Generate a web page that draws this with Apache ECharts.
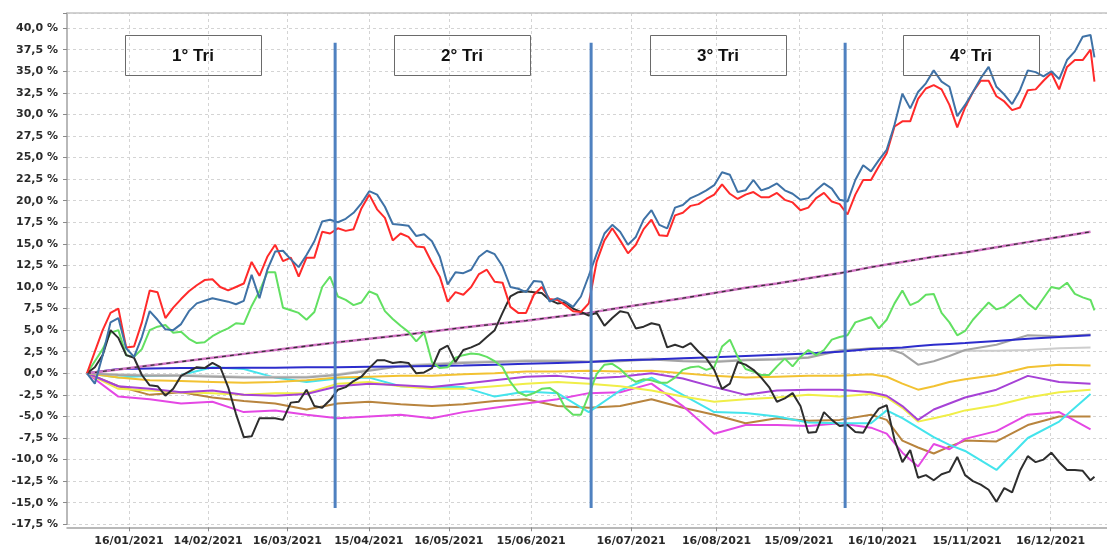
<!DOCTYPE html>
<html><head><meta charset="utf-8">
<script src="https://cdn.jsdelivr.net/npm/echarts@6/dist/echarts.min.js"></script>
<style>html,body{margin:0;padding:0;background:#fff}#c{width:1107px;height:550px}</style>
</head><body><div id="c"></div>
<script>
// x positions are trading-day indexes (day 0 = start of 2021)
const tickLabels = ['16/01/2021','14/02/2021','16/03/2021','15/04/2021','16/05/2021','15/06/2021','16/07/2021','16/08/2021','15/09/2021','16/10/2021','15/11/2021','16/12/2021'];
const tickDays = [10.7,30.9,51.1,71.9,92.3,113.3,138.8,160.6,181.6,202.9,224.5,245.8];
const quarterDays = [63.3,128.6,193.4];
const quarterTop = 38.3, quarterBottom = -15.6;
const quarterNames = ['1° Tri','2° Tri','3° Tri','4° Tri'];

// sample grids (trading days)
const days2 = [];
for (let d = 0; d <= 256; d += 2) days2.push(d);
days2.push(257);
const daysS = [];
for (let d = 0; d <= 200; d += 8) daysS.push(d);
daysS.push(204, 208, 212, 216, 220, 224, 232, 240, 248, 256);

// volatile series, one value per days2 entry (%)
const red = [0,2.5,5.0,7.0,7.5,3.0,3.1,5.9,9.6,9.4,
  6.4,7.6,8.6,9.5,10.2,10.8,10.9,10.0,9.6,10.0,
  10.4,12.9,11.3,13.5,14.9,13.0,13.4,11.2,13.4,13.4,
  16.4,16.2,16.8,16.5,16.7,19.1,20.7,19.0,18.0,15.4,
  16.2,15.8,14.7,14.6,12.8,11.2,8.3,9.4,9.1,10.0,
  11.5,12.0,10.6,10.5,7.7,7.0,7.0,9.1,10.0,8.6,
  8.5,7.9,7.2,7.1,8.1,12.9,15.4,16.8,15.4,13.9,
  14.9,16.7,17.8,16.0,15.9,18.3,18.6,19.4,19.6,20.2,
  20.7,21.9,20.8,20.2,20.7,21.0,20.4,20.4,20.9,20.1,
  19.8,18.9,19.2,20.3,20.9,19.9,19.6,18.4,20.7,22.4,
  22.4,24.0,25.5,28.6,29.2,29.2,31.8,33.0,33.4,32.9,
  31.1,28.5,30.8,32.6,33.9,33.9,32.1,31.5,30.5,30.8,
  32.8,32.9,33.9,34.8,32.9,35.5,36.3,36.3,37.5,33.8];
const blue = [0,-1.2,2.1,5.9,6.4,2.9,1.9,4.2,7.2,6.2,
  5.1,5.0,5.7,7.2,8.1,8.4,8.7,8.5,8.3,8.0,
  8.4,11.4,8.7,12.0,14.1,14.2,13.2,12.3,13.7,15.3,
  17.6,17.8,17.5,17.9,18.6,19.7,21.1,20.7,19.3,17.3,
  17.2,17.1,15.9,16.1,15.3,13.5,10.3,11.7,11.6,12.0,
  13.5,14.2,13.8,12.4,10.0,9.8,9.4,10.7,10.6,8.3,
  8.7,8.3,7.7,8.9,11.3,13.8,16.2,17.2,16.4,14.9,
  15.8,17.8,18.9,17.2,16.8,19.2,19.5,20.3,20.7,21.2,
  21.8,23.3,23.0,21.0,21.2,22.4,21.2,21.5,22.0,21.2,
  20.8,20.1,20.3,21.2,22.0,21.4,20.1,19.9,22.4,24.1,
  23.4,24.7,25.9,28.8,32.4,30.7,32.6,33.6,35.1,33.8,
  33.2,29.8,31.1,32.6,34.2,35.5,33.2,32.3,31.2,32.8,
  35.1,34.9,34.4,35.0,34.1,36.3,37.3,39.0,39.2,36.6];
const black = [0,0.7,2.1,5.0,4.1,2.1,1.8,-0.2,-1.4,-1.5,
  -2.6,-1.8,-0.3,0.2,0.7,0.6,1.2,0.7,-1.6,-4.7,
  -7.4,-7.3,-5.2,-5.2,-5.2,-5.4,-3.4,-3.3,-1.9,-3.8,
  -4.0,-3.1,-1.9,-1.6,-0.9,-0.4,0.6,1.5,1.5,1.2,
  1.3,1.2,0.0,0.1,0.6,2.7,3.2,1.3,2.7,3.0,
  3.4,4.2,5.0,7.0,8.9,9.4,9.5,9.4,9.3,8.5,
  8.1,8.2,7.5,7.1,6.7,7.0,5.5,6.4,7.2,7.0,
  5.2,5.4,5.8,5.6,3.0,3.3,3.0,3.5,2.5,1.7,
  0.4,-1.8,-1.2,1.3,1.0,0.4,-0.5,-1.6,-3.3,-2.9,
  -2.3,-3.8,-6.9,-6.8,-4.5,-5.4,-6.1,-6.0,-6.8,-6.9,
  -5.3,-4.1,-3.7,-7.7,-10.3,-8.9,-12.1,-11.8,-12.4,-11.7,
  -11.4,-9.7,-11.8,-12.5,-12.9,-13.5,-14.9,-13.3,-13.8,-11.3,
  -9.6,-10.3,-10.0,-9.2,-10.3,-11.2,-11.2,-11.3,-12.4,-12.0];
const green = [0,1.4,2.8,4.7,5.0,2.1,1.9,2.8,5.0,5.4,
  5.6,4.7,4.8,4.0,3.5,3.6,4.3,4.8,5.2,5.8,
  5.7,7.8,9.5,11.7,11.7,7.6,7.3,7.0,6.2,7.1,
  10.0,11.2,8.9,8.5,7.9,8.2,9.5,9.1,7.2,6.3,
  5.5,4.8,3.7,4.7,1.3,0.6,0.7,1.8,2.1,2.3,
  2.2,1.9,1.4,0.7,-1.0,-2.2,-2.6,-2.3,-1.8,-1.7,
  -2.3,-4.0,-4.8,-4.8,-2.5,-0.1,1.0,1.1,0.5,-0.4,
  -1.0,-0.7,-0.8,-1.1,-1.1,-0.5,0.4,0.7,0.8,0.4,
  0.7,3.1,3.9,1.9,0.5,0.2,-0.2,-0.2,0.8,1.7,
  0.8,1.9,2.7,2.1,2.7,3.9,4.2,4.4,5.9,6.2,
  6.5,5.2,6.2,8.1,9.6,7.9,8.3,9.1,9.2,7.0,
  5.9,4.4,4.9,6.2,7.2,8.2,7.4,7.7,8.4,9.1,
  8.1,7.4,8.7,10.0,9.8,10.5,9.2,8.8,8.5,7.3];

// smoother series, one value per daysS entry (%)
const pink = [0,0.45,0.9,1.35,1.8,2.25,2.7,3.15,3.6,4.0,4.4,4.85,5.3,5.7,6.1,6.55,7.0,7.6,8.15,8.7,9.3,9.9,10.4,11.0,11.6,12.3,
  12.6,12.9,13.2,13.5,13.75,14.0,14.6,15.2,15.8,16.4];
const navy = [0,0.5,0.55,0.6,0.6,0.65,0.65,0.7,0.7,0.75,0.8,0.85,0.9,1.0,1.1,1.2,1.3,1.5,1.6,1.75,1.85,2.0,2.15,2.3,2.5,2.8,
  2.9,3.0,3.15,3.3,3.4,3.5,3.75,4.0,4.2,4.4];
const gray = [0,-0.2,-0.3,-0.3,-0.4,-0.5,-0.5,-0.5,-0.2,0.3,0.8,1.0,1.2,1.3,1.4,1.4,1.3,1.4,1.6,1.4,1.3,1.5,1.6,1.8,2.6,2.9,
  2.9,2.3,1.0,1.4,2.0,2.7,3.3,4.4,4.3,4.5];
const lightGray = [0,-0.1,-0.2,-0.2,-0.3,-0.4,-0.4,-0.4,-0.1,0.4,0.9,1.1,1.3,1.4,1.5,1.5,1.4,1.5,1.7,1.5,1.4,1.6,1.7,1.9,2.7,2.8,
  2.8,2.8,2.7,2.7,2.6,2.6,2.6,2.7,2.9,3.0];
const orange = [0,-0.5,-0.8,-0.9,-1.0,-1.1,-1.0,-0.8,-0.5,-0.4,-0.3,-0.3,-0.1,0.0,0.2,0.2,0.3,0.2,0.3,0.0,-0.3,-0.5,-0.4,-0.3,-0.3,-0.1,
  -0.4,-1.2,-1.9,-1.5,-1.0,-0.7,-0.2,0.7,1.0,0.9];
const violet = [0,-1.5,-1.8,-2.2,-2.0,-2.5,-2.6,-2.4,-1.5,-1.2,-1.4,-1.6,-1.2,-0.8,-0.4,-0.3,-0.6,-0.4,0.0,-0.6,-1.6,-2.5,-2.0,-1.9,-1.9,-2.2,
  -2.6,-3.8,-5.4,-4.2,-3.5,-2.8,-1.9,-0.3,-1.0,-1.2];
const yellow = [0,-1.8,-2.0,-2.2,-2.3,-2.5,-2.3,-2.3,-1.2,-1.0,-1.5,-1.8,-1.8,-1.5,-1.2,-1.0,-1.2,-1.5,-2.0,-2.7,-3.3,-3.0,-2.8,-2.5,-2.7,-2.4,
  -2.8,-4.0,-5.6,-5.2,-4.8,-4.3,-3.7,-2.8,-2.2,-1.9];
const cyan = [0,-0.5,-0.3,-0.2,0.7,0.5,-0.5,-1.0,-0.6,-0.5,-1.5,-1.6,-1.6,-2.7,-2.1,-2.3,-4.5,-2.0,-0.5,-2.5,-4.5,-4.6,-5.0,-5.7,-5.8,-5.8,
  -4.3,-5.2,-6.3,-7.4,-8.3,-9.0,-11.2,-7.5,-5.6,-2.4];
const magenta = [0,-2.7,-3.0,-3.5,-3.3,-4.5,-4.3,-4.8,-5.2,-5.0,-4.8,-5.2,-4.5,-4.0,-3.5,-3.0,-2.3,-2.2,-1.2,-3.8,-7.0,-6.0,-6.0,-6.1,-5.8,-6.3,
  -7.0,-9.2,-10.8,-8.2,-8.8,-7.6,-6.7,-4.8,-4.5,-6.5];
const brown = [0,-1.5,-2.5,-2.2,-2.8,-3.2,-3.5,-4.2,-3.5,-3.3,-3.6,-3.8,-3.6,-3.2,-3.0,-3.8,-4.0,-3.8,-3.0,-4.0,-4.8,-5.8,-5.2,-5.5,-5.4,-4.8,
  -5.4,-7.8,-8.6,-9.3,-8.5,-7.8,-7.9,-6.0,-5.0,-5.0];

const zip = (xs, ys) => xs.map((x, i) => [x, ys[i]]);
function lineSeries(name, xs, ys, color, extra) {
  return Object.assign({
    name, type: 'line', data: zip(xs, ys), showSymbol: false, symbol: 'none',
    lineStyle: { color, width: 2 }, itemStyle: { color }, animation: false, z: 3
  }, extra || {});
}

const series = [
  lineSeries('brown', daysS, brown, '#b8843e'),
  lineSeries('magenta', daysS, magenta, '#e448e4'),
  lineSeries('cyan', daysS, cyan, '#44e4ec'),
  lineSeries('yellow', daysS, yellow, '#f0ee48'),
  lineSeries('violet', daysS, violet, '#a642d6'),
  lineSeries('orange', daysS, orange, '#f2c232'),
  lineSeries('lightGray', daysS, lightGray, '#cdcdcd'),
  lineSeries('gray', daysS, gray, '#a4a4a4'),
  lineSeries('navy', daysS, navy, '#2c2ccc'),
  lineSeries('pink', daysS, pink, '#d274c4', {lineStyle:{color:'#d274c4', width:2.5}}),
  lineSeries('pinkDash', daysS, pink, '#333', {lineStyle:{color:'#333', width:1.3, type:[4,4]}}),
  lineSeries('green', days2, green, '#62e062'),
  lineSeries('black', days2, black, '#2e2e2e'),
  lineSeries('red', days2, red, '#ff2a2a'),
  lineSeries('blue', days2, blue, '#3f72a6')
];
quarterDays.forEach((d, i) => {
  series.push({
    name: 'q' + i, type: 'line', data: [[d, quarterTop], [d, quarterBottom]],
    showSymbol: false, symbol: 'none', animation: false, z: 5,
    lineStyle: { color: '#4f81c0', width: 3 }
  });
});

const boxes = [[125, 193], [394, 462], [650, 718], [903, 971]];
const graphic = [];
boxes.forEach((b, i) => {
  graphic.push({ type: 'rect', z: 10, shape: { x: b[0] + 0.5, y: 35.5, width: 136, height: 40 },
    style: { fill: 'rgba(0,0,0,0)', stroke: '#6a6a6a', lineWidth: 1 } });
  graphic.push({ type: 'text', z: 11, x: b[1], y: 56,
    style: { text: quarterNames[i], font: 'bold 17px "Liberation Sans", Arial, sans-serif', fill: '#111', align: 'center', verticalAlign: 'middle' } });
});

const chart = echarts.init(document.getElementById('c'), null, { renderer: 'canvas' });
chart.setOption({
  backgroundColor: '#ffffff',
  animation: false,
  grid: { left: 67, right: 0, top: 13, bottom: 25.7, containLabel: false },
  xAxis: [{
    type: 'value', min: -5.1, max: 260.2, position: 'bottom', offset: 3,
    axisLine: { show: true, onZero: false, lineStyle: { color: '#a2a2a2', width: 1.5 } },
    axisTick: { show: true, customValues: tickDays, length: 4, lineStyle: { color: '#8a8a8a' } },
    axisLabel: { customValues: tickDays, margin: 8, color: '#2a2a2a', fontFamily: 'DejaVu Sans', fontWeight: 'bold', fontSize: 11,
      formatter: v => { const i = tickDays.indexOf(v); return i >= 0 ? tickLabels[i] : ''; } },
    splitLine: { show: true, lineStyle: { color: '#d4d4d4', type: [3, 3], width: 1 } }
  }, {
    type: 'value', min: -5.1, max: 260.2, position: 'top',
    axisLine: { show: true, onZero: false, lineStyle: { color: '#c4c4c4', width: 1.5 } },
    axisTick: { show: false }, axisLabel: { show: false }, splitLine: { show: false }
  }],
  yAxis: {
    type: 'value', min: -17.5, max: 41.75, interval: 2.5,
    axisLine: { show: true, onZero: false, lineStyle: { color: '#a2a2a2', width: 1.5 } },
    axisTick: { show: true, length: 4, lineStyle: { color: '#8a8a8a' } },
    axisLabel: { margin: 9, color: '#2a2a2a', fontFamily: 'DejaVu Sans', fontWeight: 'bold', fontSize: 11,
      formatter: v => (Math.abs(v / 2.5 - Math.round(v / 2.5)) > 1e-6) ? '' : (v.toFixed(1).replace('.', ',') + ' %') },
    splitLine: { show: true, lineStyle: { color: '#d4d4d4', type: [3, 3], width: 1 } }
  },
  series,
  graphic
});
</script>
</body></html>
